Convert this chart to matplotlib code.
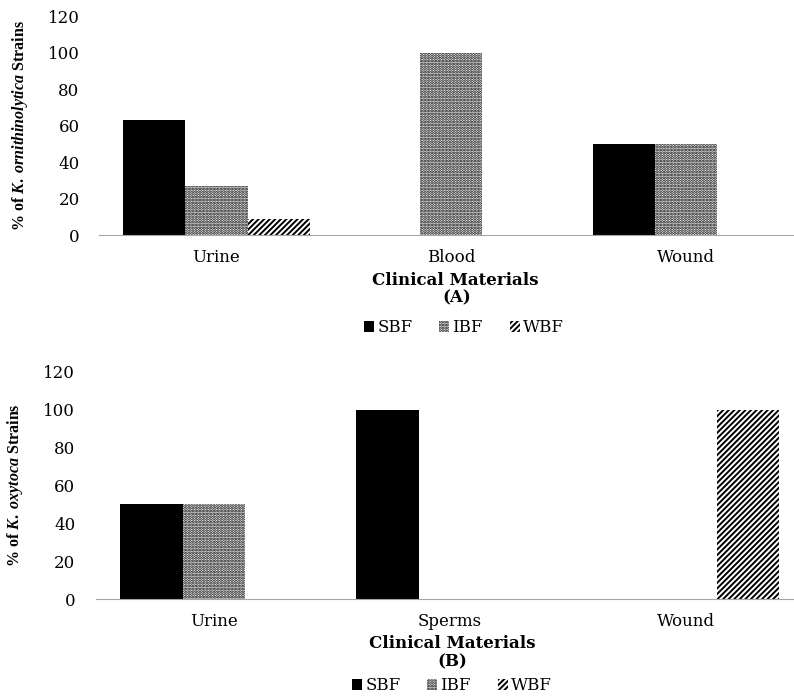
import matplotlib
matplotlib.use("Agg")
import matplotlib.pyplot as plt
import numpy as np
from matplotlib.patches import Patch

# Panel A: K. ornithinolytica
mat_a = ["Urine", "Blood", "Wound"]
sbf_a = [63, 0, 50]
ibf_a = [27, 100, 50]
wbf_a = [9, 0, 0]

# Panel B: K. oxytoca
mat_b = ["Urine", "Sperms", "Wound"]
sbf_b = [50, 100, 0]
ibf_b = [50, 0, 0]
wbf_b = [0, 0, 100]

series = ["SBF", "IBF", "WBF"]

plt.rcParams["font.family"] = ["DejaVu Serif"]
plt.rcParams["mathtext.fontset"] = "custom"
plt.rcParams["mathtext.it"] = "Liberation Serif:italic:bold"
plt.rcParams["mathtext.rm"] = "Liberation Serif:bold"
plt.rcParams["hatch.linewidth"] = 1.4

tam_font = 12
estilos = [
    dict(color="black", edgecolor="black", hatch=None),
    dict(color="white", edgecolor="black", hatch="......"),
    dict(color="white", edgecolor="black", hatch="//////"),
]

fig = plt.figure(figsize=(7.94, 6.96), dpi=100)
ax_a = fig.add_axes([0.1247, 0.662, 0.8753, 0.315])
ax_b = fig.add_axes([0.121, 0.139, 0.879, 0.327])


def desenhar(ax, materiais, valores, ylabel, pad_y):
    x = np.arange(len(materiais))
    w = 0.265
    for i, (vals, est) in enumerate(zip(valores, estilos)):
        ax.bar(x + (i - 1) * w, vals, width=w, linewidth=0, **est)
    ax.set_xlim(-0.5, 2.46)
    ax.set_ylim(0, 120)
    ax.set_yticks(range(0, 121, 20))
    ax.set_xticks(x)
    ax.set_xticklabels(materiais, fontsize=tam_font)
    ax.tick_params(axis="both", length=0, labelsize=tam_font)
    ax.tick_params(axis="x", pad=10)
    ax.tick_params(axis="y", pad=pad_y)
    for s in ["top", "right", "left"]:
        ax.spines[s].set_visible(False)
    ax.spines["bottom"].set_color("#a6a6a6")
    ax.set_ylabel(ylabel, fontsize=11.5, fontweight="bold",
                  family="Liberation Serif")


desenhar(ax_a, mat_a, [sbf_a, ibf_a, wbf_a],
         r"% of $K.\ ornithinolytica$ Strains", 14)
desenhar(ax_b, mat_b, [sbf_b, ibf_b, wbf_b],
         r"% of $K.\ oxytoca$ Strains", 15)
ax_a.yaxis.set_label_coords(-0.100, 0.5)
ax_b.yaxis.set_label_coords(-0.102, 0.5)

fig.text(455 / 794, 1 - 280 / 696, "Clinical Materials", ha="center",
         va="center", fontsize=tam_font, fontweight="bold")
fig.text(457 / 794, 1 - 298 / 696, "(A)", ha="center", va="center",
         fontsize=tam_font, fontweight="bold")
fig.text(452 / 794, 1 - 643 / 696, "Clinical Materials", ha="center",
         va="center", fontsize=tam_font, fontweight="bold")
fig.text(452 / 794, 1 - 662 / 696, "(B)", ha="center", va="center",
         fontsize=tam_font, fontweight="bold")

alcas = [Patch(facecolor=e["color"], edgecolor="black", hatch=e["hatch"],
               linewidth=0, label=s) for e, s in zip(estilos, series)]
for xc, yc in [(464, 328), (452, 686)]:
    fig.legend(handles=alcas, loc="center", bbox_to_anchor=(xc / 794, 1 - yc / 696),
               ncols=3, frameon=False, fontsize=tam_font, handlelength=0.6,
               handleheight=0.6, handletextpad=0.2, columnspacing=1.6,
               borderpad=0.1)

fig.savefig("out.png", dpi=100)
